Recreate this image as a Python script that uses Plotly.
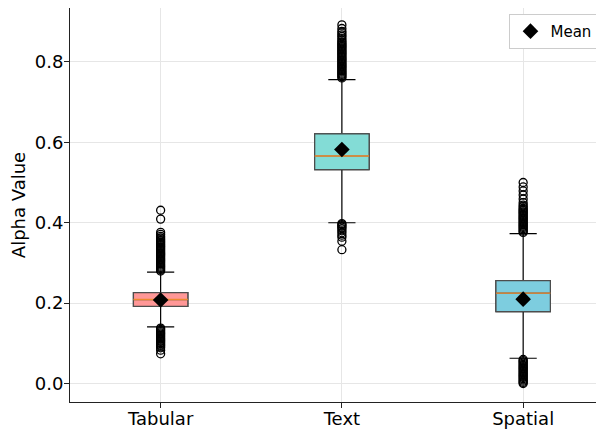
import plotly.graph_objects as go

categories = ["Tabular", "Text", "Spatial"]
q1 = [0.192, 0.532, 0.179]
median = [0.209, 0.566, 0.225]
q3 = [0.226, 0.621, 0.256]
lower_whisker = [0.141, 0.400, 0.063]
upper_whisker = [0.277, 0.756, 0.373]
means = [0.208, 0.582, 0.210]
box_colors = ["#FF9797", "#83DCD6", "#7DCDDF"]

outliers_tabular = [
    0.280, 0.283, 0.286, 0.289, 0.292, 0.295, 0.298, 0.301, 0.304, 0.307,
    0.310, 0.313, 0.316, 0.319, 0.322, 0.325, 0.328, 0.331, 0.334, 0.337,
    0.340, 0.343, 0.346, 0.349, 0.352, 0.355, 0.358, 0.362, 0.366, 0.371,
    0.376, 0.409, 0.431,
    0.138, 0.135, 0.132, 0.129, 0.126, 0.123, 0.120, 0.117, 0.114, 0.111,
    0.108, 0.105, 0.102, 0.099, 0.096, 0.093, 0.089, 0.083, 0.074,
]
outliers_text = [
    0.760, 0.763, 0.766, 0.769, 0.772, 0.775, 0.778, 0.781, 0.784, 0.787,
    0.790, 0.793, 0.796, 0.799, 0.802, 0.805, 0.808, 0.811, 0.814, 0.817,
    0.820, 0.823, 0.826, 0.829, 0.832, 0.835, 0.838, 0.841, 0.844, 0.847,
    0.850, 0.854, 0.858, 0.863, 0.867, 0.872, 0.876, 0.883, 0.892,
    0.398, 0.395, 0.392, 0.389, 0.385, 0.380, 0.375, 0.369, 0.364, 0.354,
    0.333,
]
outliers_spatial = [
    0.376, 0.379, 0.382, 0.385, 0.388, 0.391, 0.394, 0.397, 0.400, 0.403,
    0.406, 0.409, 0.412, 0.415, 0.418, 0.421, 0.424, 0.427, 0.430, 0.433,
    0.436, 0.440, 0.444, 0.450, 0.459, 0.469, 0.479, 0.489, 0.500,
    0.060, 0.057, 0.054, 0.051, 0.048, 0.045, 0.042, 0.039, 0.036, 0.033,
    0.030, 0.027, 0.024, 0.021, 0.018, 0.015, 0.012, 0.009, 0.006, 0.003,
    0.000,
]
outliers = [outliers_tabular, outliers_text, outliers_spatial]

y_ticks = [0.0, 0.2, 0.4, 0.6, 0.8]

FONT = "DejaVu Sans"
fig = go.Figure()

for i, cat in enumerate(categories):
    # whiskers (black)
    fig.add_trace(go.Box(
        x=[cat], q1=[q1[i]], median=[median[i]], q3=[q3[i]],
        lowerfence=[lower_whisker[i]], upperfence=[upper_whisker[i]],
        boxpoints=False, width=0.3, whiskerwidth=0.5,
        fillcolor="rgba(0,0,0,0)", line=dict(color="black", width=1.2),
        showlegend=False, hoverinfo="skip"))
    # box body
    fig.add_trace(go.Box(
        x=[cat], q1=[q1[i]], median=[median[i]], q3=[q3[i]],
        lowerfence=[q1[i]], upperfence=[q3[i]],
        boxpoints=False, width=0.3, whiskerwidth=0,
        fillcolor=box_colors[i], line=dict(color="#4d4d4d", width=1.2),
        showlegend=False, hoverinfo="skip"))
    # median (orange)
    fig.add_trace(go.Box(
        x=[cat], q1=[median[i]], median=[median[i]], q3=[median[i]],
        lowerfence=[median[i]], upperfence=[median[i]],
        boxpoints=False, width=0.3, whiskerwidth=0,
        fillcolor="rgba(0,0,0,0)", line=dict(color="#EE8A2E", width=1.4),
        showlegend=False, hoverinfo="skip"))
    # outliers
    fig.add_trace(go.Scatter(
        x=[cat] * len(outliers[i]), y=outliers[i], mode="markers",
        marker=dict(symbol="circle-open", size=8, color="black",
                    line=dict(width=1.3, color="black")),
        showlegend=False, hoverinfo="skip"))

fig.add_trace(go.Scatter(
    x=categories, y=means, mode="markers", name="Mean",
    marker=dict(symbol="diamond", size=12, color="black")))

# page has an 8px body margin: figure is sized/placed to compensate
fig.update_layout(
    width=596, height=421,
    margin=dict(l=62, r=0, t=0, b=27),
    paper_bgcolor="white", plot_bgcolor="white",
    boxmode="overlay",
    font=dict(family=FONT, size=18, color="black"),
    legend=dict(x=0.823, y=0.985, xanchor="left", yanchor="top",
                bgcolor="white", bordercolor="#cccccc", borderwidth=1,
                font=dict(size=15, family=FONT)),
)
fig.update_xaxes(
    type="category", categoryorder="array", categoryarray=categories,
    range=[-0.5, 2.446], showline=True, linecolor="#222", linewidth=1,
    mirror=True, ticks="outside", ticklen=5, tickcolor="#222",
    ticklabelstandoff=-5,
    showgrid=True, gridcolor="#e6e6e6", gridwidth=0.8,
    tickfont=dict(size=18, family=FONT, color="black"), automargin=False)
fig.update_yaxes(
    range=[-0.0458, 0.934], tickvals=y_ticks, tickformat=".1f",
    showline=True, linecolor="#222", linewidth=1, mirror=False,
    ticks="outside", ticklen=5, tickcolor="#222",
    ticklabelstandoff=-3,
    showgrid=True, gridcolor="#e6e6e6", gridwidth=0.8, zeroline=False,
    tickfont=dict(size=18, family=FONT, color="black"),
    title=dict(text="Alpha Value", font=dict(size=18, family=FONT, color="black"),
               standoff=4),
    automargin=False)

fig.write_html("out.html")
